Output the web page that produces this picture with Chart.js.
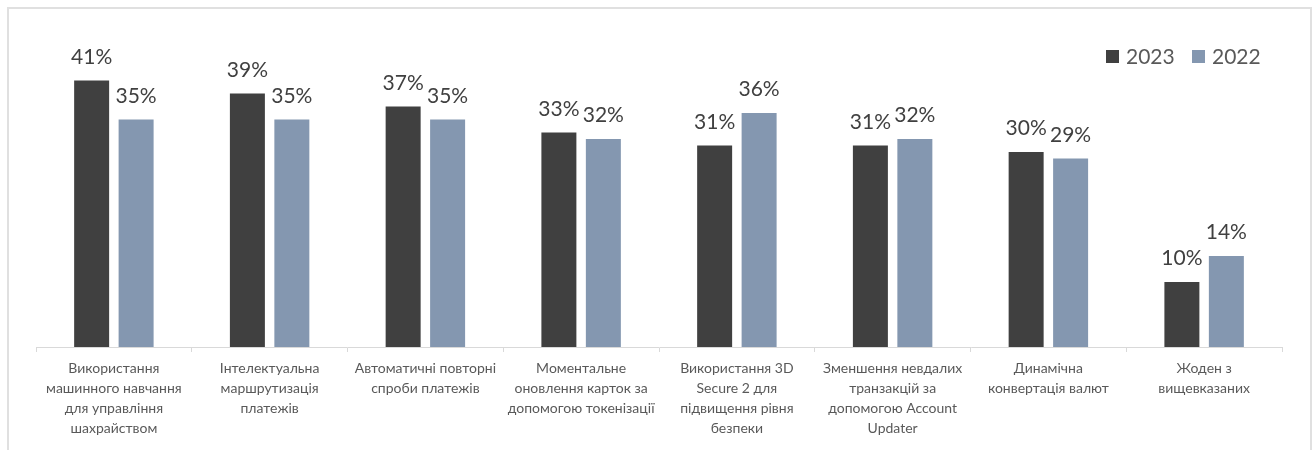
<!DOCTYPE html>
<html>
<head>
<meta charset="utf-8">
<script src="https://cdn.jsdelivr.net/npm/chart.js@4"></script>
<style>
  body { margin: 0; background: #fff; }
  .frame { position: absolute; left: 7px; top: 7px; width: 1301px; height: 470px; border: 2px solid #e0e0e0; }
  .wrap { position: absolute; left: 0; top: 0; width: 1312px; height: 450px; }
</style>
</head>
<body>
<div class="frame"></div>
<div class="wrap"><canvas id="paymentsChart"></canvas></div>
<script>
const categories = [
  ['Використання', 'машинного навчання', 'для управління', 'шахрайством'],
  ['Інтелектуальна', 'маршрутизація', 'платежів'],
  ['Автоматичні повторні', 'спроби платежів'],
  ['Моментальне', 'оновлення карток за', 'допомогою токенізації'],
  ['Використання 3D', 'Secure 2 для', 'підвищення рівня', 'безпеки'],
  ['Зменшення невдалих', 'транзакцій за', 'допомогою Account', 'Updater'],
  ['Динамічна', 'конвертація валют'],
  ['Жоден з', 'вищевказаних']
];
const values2023 = [41, 39, 37, 33, 31, 31, 30, 10];
const values2022 = [35, 35, 35, 32, 36, 32, 29, 14];
const seriesLabels = ['2023', '2022'];

const FONT = 'Lato, "Noto Sans", sans-serif';

// percent labels above each bar
const valueLabels = {
  id: 'valueLabels',
  afterDatasetsDraw(chart) {
    const ctx = chart.ctx;
    ctx.save();
    ctx.font = '21px ' + FONT;
    ctx.fillStyle = '#404040';
    ctx.textAlign = 'center';
    ctx.textBaseline = 'alphabetic';
    chart.data.datasets.forEach((ds, i) => {
      chart.getDatasetMeta(i).data.forEach((bar, j) => {
        ctx.fillText(ds.data[j] + '%', bar.x, bar.y - 17);
      });
    });
    ctx.restore();
  }
};

// legend in the top right corner
const cornerLegend = {
  id: 'cornerLegend',
  afterDraw(chart) {
    const ctx = chart.ctx;
    const starts = [1106, 1192];
    ctx.save();
    ctx.font = '21px ' + FONT;
    ctx.textBaseline = 'middle';
    ctx.textAlign = 'left';
    chart.data.datasets.forEach((ds, i) => {
      ctx.fillStyle = ds.backgroundColor;
      ctx.fillRect(starts[i], 50, 13, 13);
      ctx.fillStyle = '#595959';
      ctx.fillText(ds.label, starts[i] + 20, 57);
    });
    ctx.restore();
  }
};

new Chart(document.getElementById('paymentsChart'), {
  type: 'bar',
  data: {
    labels: categories,
    datasets: [
      { label: seriesLabels[0], data: values2023, backgroundColor: '#404040' },
      { label: seriesLabels[1], data: values2022, backgroundColor: '#8497B0' }
    ]
  },
  options: {
    responsive: true,
    maintainAspectRatio: false,
    animation: false,
    categoryPercentage: 0.571,
    barPercentage: 0.787,
    layout: { padding: { left: 36, right: 30, top: 22, bottom: 0 } },
    plugins: {
      legend: { display: false },
      tooltip: { enabled: false }
    },
    scales: {
      x: {
        afterFit(scale) { scale.height = 103; },
        grid: { offset: true, drawOnChartArea: false, tickLength: 5, color: '#d9d9d9' },
        border: { color: '#d9d9d9', width: 1 },
        ticks: {
          color: '#595959',
          font: { family: FONT, size: 14, lineHeight: 20 / 14 },
          padding: 6,
          maxRotation: 0,
          autoSkip: false
        }
      },
      y: {
        display: false,
        min: 0,
        max: 50
      }
    }
  },
  plugins: [valueLabels, cornerLegend]
});
</script>
</body>
</html>
